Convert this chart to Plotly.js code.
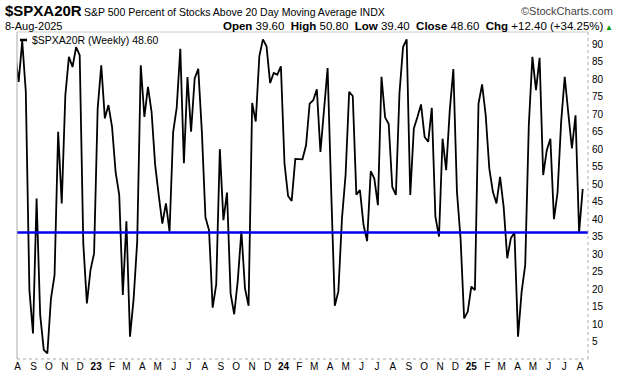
<!DOCTYPE html>
<html><head><meta charset="utf-8">
<script src="https://cdn.plot.ly/plotly-3.0.1.min.js"></script>
<style>html,body{margin:0;padding:0;background:#fff;}#chart{width:620px;height:376px;}</style>
</head><body><div id="chart"></div><script>
// Weekly closes, first value is the week ending 2022-07-29 (partly outside the view)
const firstWeek = '2022-07-29';
const pctAbove20 = [
  87.6, 79.2, 90.9, 76.4, 19.7, 7.3, 45.9, 12.6, 2.6, 1.6,
  17.3, 24.0, 65.0, 44.5, 75.4, 86.4, 83.5, 89.2, 86.9, 33.0,
  15.9, 25.4, 30.2, 71.6, 84.0, 68.8, 72.6, 66.4, 53.4, 46.9,
  18.3, 39.4, 6.4, 17.1, 33.5, 84.0, 69.2, 77.8, 70.7, 55.5,
  46.8, 38.7, 44.5, 36.4, 64.8, 71.9, 88.7, 56.0, 80.6, 65.0,
  80.2, 83.0, 65.0, 40.5, 36.8, 14.7, 21.3, 60.0, 39.7, 47.6,
  18.7, 12.8, 22.5, 36.6, 20.2, 15.2, 73.2, 67.9, 86.6, 91.4,
  89.4, 78.9, 81.8, 81.3, 83.7, 55.9, 46.6, 45.2, 57.2, 57.2,
  57.1, 61.1, 73.0, 74.0, 77.1, 59.2, 71.1, 83.2, 48.0, 15.2,
  19.4, 40.2, 52.6, 76.4, 75.2, 47.0, 48.3, 38.3, 33.7, 53.7,
  51.6, 44.0, 80.7, 69.1, 67.2, 49.2, 46.9, 76.0, 89.2, 91.4,
  46.9, 65.9, 69.2, 72.8, 63.5, 62.1, 71.8, 40.7, 35.0, 63.0,
  54.0, 71.1, 82.9, 47.8, 34.5, 11.6, 13.5, 20.7, 19.7, 73.0,
  78.5, 69.7, 54.5, 47.8, 44.5, 52.1, 43.5, 28.8, 34.5, 36.2,
  6.4, 19.2, 26.9, 66.9, 86.4, 76.9, 86.1, 52.6, 59.7, 63.0,
  40.0, 47.6, 67.8, 80.7, 70.2, 60.2, 69.7, 36.2, 48.6
];
const supportLevel = 36.2;
const monthLetters = ['J','F','M','A','M','J','J','A','S','O','N','D'];
const yTicks = [5,10,15,20,25,30,35,40,45,50,55,60,65,70,75,80,85,90];

function pad(n){return (n<10?'0':'')+n;}
function isoDay(d){return d.getUTCFullYear()+'-'+pad(d.getUTCMonth()+1)+'-'+pad(d.getUTCDate());}
const t0 = Date.parse(firstWeek+'T00:00:00Z');
const weekDates = pctAbove20.map((_,i)=>isoDay(new Date(t0 + i*7*86400000)));

// month ticks
const tickVals = [], tickText = [];
for (let y=2022, m=7; y<2025 || (y===2025 && m<=7); ) {
  tickVals.push(y+'-'+pad(m+1)+'-03');
  tickText.push(m===0 ? '<b>'+String(y).slice(2)+'</b>' : monthLetters[m]);
  m++; if (m>11){m=0;y++;}
}

const L=17, R=588, T=32, B=359;
const px = X => (X-L)/(R-L);
const py = Y => (B-Y)/(B-T);
const font = 'Liberation Sans, Arial, sans-serif';

const trace = {
  x: weekDates, y: pctAbove20, type:'scatter', mode:'lines',
  line:{color:'#000', width:1.8}, hoverinfo:'skip'
};

const layout = {
  width:620, height:376,
  margin:{l:L, r:620-R, t:T, b:376-B, pad:0},
  paper_bgcolor:'#fff', plot_bgcolor:'#fff',
  showlegend:false,
  xaxis:{type:'date', range:['2022-08-01 20:00','2025-08-18 07:40'],
    tickmode:'array', tickvals:tickVals, ticktext:tickText,
    showgrid:false, zeroline:false, showline:false, ticks:'',
    tickfont:{family:font, size:10, color:'#000'}, ticklabelstandoff:0},
  yaxis:{range:[0,93.5], side:'right', tickmode:'array', tickvals:yTicks,
    showgrid:false, zeroline:false, showline:false, ticks:'',
    tickfont:{family:font, size:10, color:'#000'}, ticklabelstandoff:3},
  shapes:[
    {type:'line', xref:'paper', yref:'y', x0:0, x1:1, y0:supportLevel, y1:supportLevel,
     line:{color:'#0000ee', width:2.5}},
    {type:'line', xref:'paper', yref:'paper', x0:0, x1:0, y0:0, y1:1, line:{color:'#aaa', width:1}},
    {type:'line', xref:'paper', yref:'paper', x0:0, x1:1, y0:1, y1:1, line:{color:'#ccc', width:1}},
    {type:'line', xref:'paper', yref:'paper', x0:1, x1:1, y0:0, y1:1, line:{color:'#aaa', width:1, dash:'dot'}},
    {type:'line', xref:'paper', yref:'paper', x0:0, x1:1, y0:0, y1:0, line:{color:'#aaa', width:1, dash:'dot'}},
    {type:'line', xref:'paper', yref:'paper', x0:px(20), x1:px(27), y0:py(40), y1:py(40), line:{color:'#000', width:2.5}}
  ],
  annotations:[
    {text:'<b>$SPXA20R</b>', xref:'paper', yref:'paper', x:px(3), y:py(11), xanchor:'left', yanchor:'middle', showarrow:false, font:{family:font, size:15, color:'#000'}},
    {text:'S&P 500 Percent of Stocks Above 20 Day Moving Average INDX', xref:'paper', yref:'paper', x:px(82), y:py(12), xanchor:'left', yanchor:'middle', showarrow:false, font:{family:font, size:10.5, color:'#000'}},
    {text:'©StockCharts.com', xref:'paper', yref:'paper', x:px(615), y:py(11), xanchor:'right', yanchor:'middle', showarrow:false, font:{family:font, size:11, color:'#444'}},
    {text:'8-Aug-2025', xref:'paper', yref:'paper', x:px(3), y:py(26), xanchor:'left', yanchor:'middle', showarrow:false, font:{family:font, size:11, color:'#000'}},
    {text:'<b>Open</b> 39.60  <b>High</b> 50.80  <b>Low</b> 39.40  <b>Close</b> 48.60  <b>Chg</b> +12.40 (+34.25%)', xref:'paper', yref:'paper', x:px(606), y:py(26), xanchor:'right', yanchor:'middle', showarrow:false, font:{family:font, size:11.5, color:'#000'}},
    {text:'▲', xref:'paper', yref:'paper', x:px(615), y:py(27), xanchor:'right', yanchor:'middle', showarrow:false, font:{family:font, size:8, color:'#00a000'}},
    {text:'$SPXA20R (Weekly) 48.60', xref:'paper', yref:'paper', x:px(30), y:py(40), xanchor:'left', yanchor:'middle', showarrow:false, font:{family:font, size:10.5, color:'#000'}}
  ]
};
Plotly.newPlot('chart',[trace],layout,{staticPlot:true, displayModeBar:false});
</script></body></html>
